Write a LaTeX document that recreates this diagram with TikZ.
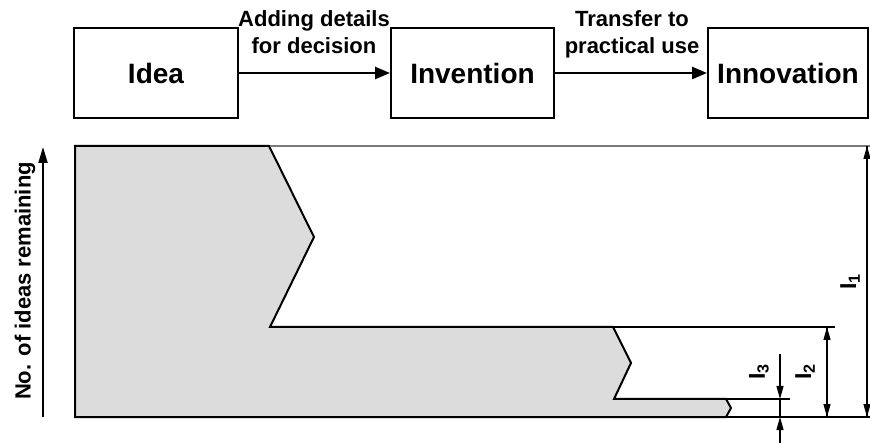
\documentclass[tikz,border=0pt]{standalone}
\usepackage{fontspec}
\setmainfont{Liberation Sans}
\usetikzlibrary{arrows.meta}
\definecolor{fillgray}{HTML}{DCDCDC}
\definecolor{linegray}{HTML}{7A7A7A}
\begin{document}
\begin{tikzpicture}[x=1pt,y=-1pt,
  box/.style={draw,line width=2pt,minimum height=90pt,inner sep=0pt,font=\fontsize{28}{30}\selectfont\bfseries},
  flow/.style={line width=2.6pt,-{Triangle[length=15pt,width=12pt]}},
  lbl/.style={font=\fontsize{22}{27}\selectfont\bfseries,align=center,inner sep=0pt,anchor=north},
  dimtip/.style={-{Triangle[length=13pt,width=7pt]}},
  dimline/.style={line width=1.2pt},
  ilbl/.style={rotate=90,inner sep=0pt,font=\fontsize{23}{23}\selectfont\bfseries}]
\useasboundingbox (0,0) rectangle (870,443);
% boxes
\node[box,minimum width=164pt] (idea) at (156,73) {Idea};
\node[box,minimum width=163pt] (invention) at (472.5,73) {Invention};
\node[box,minimum width=160pt] (innovation) at (788,73) {Innovation};
\draw[flow] (idea.east) -- (invention.west);
\draw[flow] (invention.east) -- (innovation.west);
\node[lbl] (l1) at (314,10) {Adding details\\for decision};
\node[lbl] (l2) at (632,10) {Transfer to\\practical use};
% axis
\node[ilbl,font=\fontsize{22}{26}\selectfont\bfseries] (ylab) at (25,281) {No. of ideas remaining};
\coordinate (a0) at (43,417);
\coordinate (a1) at (43,147);
\draw[line width=2pt,-{Triangle[length=16pt,width=9pt]}] (a0) -- (a1);
% funnel region
\draw[line width=2pt,fill=fillgray] (75,146) -- (269,146) -- (314,237) -- (270,327) -- (613,327) -- (631,363) -- (614,399) -- (726,399) -- (731,408) -- (726,417) -- (75,417) -- cycle;
% extension lines
\draw[line width=1.6pt,linegray] (270,146) -- (870,146);
\draw[dimline] (613,327) -- (835,327);
\draw[dimline] (726,399) -- (790,399);
\draw[dimline] (726,417) -- (870,417);
% dimensions
\coordinate (t1) at (867,146);
\coordinate (b1) at (867,417);
\draw[dimline,dimtip] (t1) -- (b1);
\draw[dimline,dimtip] (b1) -- (t1);
\coordinate (t2) at (827,327);
\coordinate (b2) at (827,417);
\draw[dimline,dimtip] (t2) -- (b2);
\draw[dimline,dimtip] (b2) -- (t2);
\coordinate (s3) at (780,354);
\coordinate (m3) at (780,399);
\coordinate (n3) at (780,417);
\coordinate (e3) at (780,443);
\draw[dimline,dimtip] (s3) -- (m3);
\draw[dimline] (m3) -- (n3);
\draw[dimline,dimtip] (e3) -- (n3);
\node[ilbl] (i1) at (850,282) {I\textsubscript{1}};
\node[ilbl] (i2) at (805,372) {I\textsubscript{2}};
\node[ilbl] (i3) at (759,372) {I\textsubscript{3}};
\end{tikzpicture}
\end{document}
